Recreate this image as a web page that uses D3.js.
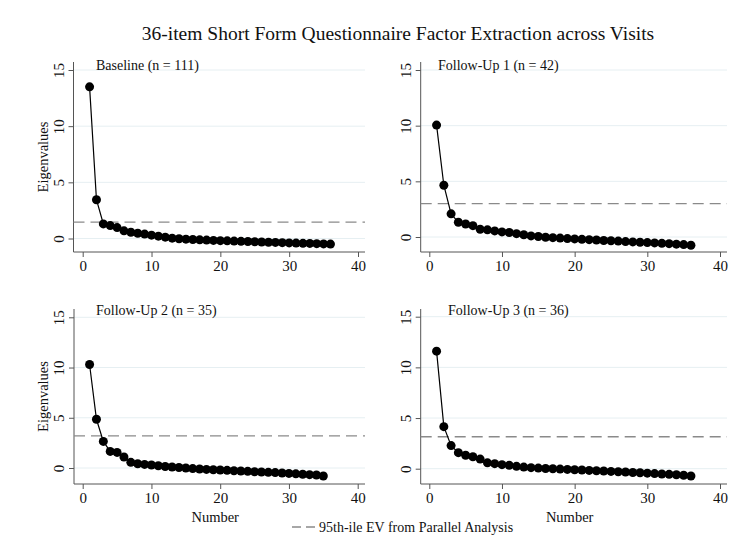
<!DOCTYPE html>
<html>
<head>
<meta charset="utf-8">
<script src="https://d3js.org/d3.v7.min.js"></script>
<style>
  body { margin: 0; background: #fff; }
  svg { display: block; }
  svg text { font-family: "Liberation Serif", "Times New Roman", serif; }
</style>
</head>
<body>
<div id="chart"></div>
<script>
// Data
const panelTitles = ["Baseline (n = 111)", "Follow-Up 1 (n = 42)", "Follow-Up 2 (n = 35)", "Follow-Up 3 (n = 36)"];

const baseline = [13.5, 3.45, 1.3, 1.15, 0.97, 0.68, 0.56, 0.47, 0.39, 0.3, 0.21, 0.12, 0.03, -0.02, -0.06, -0.09,
    -0.12, -0.14, -0.17, -0.19, -0.21, -0.23, -0.25, -0.27, -0.29, -0.31, -0.33, -0.35, -0.37, -0.39, -0.41, -0.43,
    -0.44, -0.46, -0.48, -0.5];
const followUp1 = [10.05, 4.65, 2.08, 1.32, 1.17, 1.02, 0.7, 0.64, 0.55, 0.46, 0.4, 0.3, 0.2, 0.1, 0.04, -0.02,
    -0.06, -0.1, -0.14, -0.17, -0.21, -0.24, -0.27, -0.31, -0.34, -0.37, -0.41, -0.44, -0.47, -0.5, -0.53, -0.57,
    -0.6, -0.64, -0.68, -0.74];
const followUp2 = [10.3, 4.85, 2.65, 1.65, 1.55, 1.1, 0.56, 0.42, 0.36, 0.3, 0.22, 0.15, 0.1, 0.05, 0.0, -0.06,
    -0.1, -0.14, -0.17, -0.2, -0.23, -0.27, -0.3, -0.33, -0.37, -0.4, -0.43, -0.46, -0.5, -0.54, -0.58, -0.62,
    -0.66, -0.7, -0.8];
const followUp3 = [11.6, 4.15, 2.28, 1.58, 1.33, 1.18, 0.95, 0.58, 0.5, 0.4, 0.33, 0.23, 0.16, 0.1, 0.06, 0.02,
    -0.01, -0.04, -0.07, -0.1, -0.13, -0.17, -0.2, -0.23, -0.27, -0.3, -0.33, -0.37, -0.4, -0.44, -0.48, -0.52,
    -0.56, -0.6, -0.65, -0.72];

// 95th percentile eigenvalue from parallel analysis, per visit
const parallelEV = [1.46, 3.0, 3.2, 3.15];

const xTicks = [0, 10, 20, 30, 40];
const yTicks = [0, 5, 10, 15];

const series = [baseline, followUp1, followUp2, followUp3];

// Layout (pixel positions of each panel)
const layout = [
    { left: 73.5, right: 365, top: 62, bottom: 252, x0: 82.7, x40: 358, y0: 238.5, y15: 70, titleX: 96, titleY: 65, yTitle: true, xTitle: false },
    { left: 420.7, right: 727, top: 62, bottom: 252, x0: 429.3, x40: 720, y0: 237, y15: 70, titleX: 438, titleY: 65, yTitle: false, xTitle: false },
    { left: 74, right: 365, top: 309, bottom: 484, x0: 82.7, x40: 357.7, y0: 468, y15: 317.3, titleX: 96, titleY: 310, yTitle: true, xTitle: true },
    { left: 420.7, right: 727, top: 309, bottom: 484, x0: 429.3, x40: 720, y0: 468.7, y15: 316.7, titleX: 448, titleY: 310, yTitle: false, xTitle: true }
];

const width = 742, height = 546;
const serif = "'Liberation Serif', 'Times New Roman', serif";

const svg = d3.select("#chart")
    .append("svg")
    .attr("width", width)
    .attr("height", height);

// Main title
svg.append("text")
    .attr("x", 398)
    .attr("y", 33)
    .attr("text-anchor", "middle")
    .attr("dominant-baseline", "central")
    .attr("font-family", serif)
    .style("font-size", "19.5px")
    .attr("fill", "#111")
    .text("36-item Short Form Questionnaire Factor Extraction across Visits");

series.forEach((values, i) => {
    const L = layout[i];
    const data = values.map((v, k) => ({ n: k + 1, ev: v }));

    const xScale = d3.scaleLinear().domain([0, 40]).range([L.x0, L.x40]);
    const yScale = d3.scaleLinear().domain([0, 15]).range([L.y0, L.y15]);

    const g = svg.append("g").attr("font-family", serif);

    // Gridlines
    g.selectAll(".grid")
        .data(yTicks)
        .enter()
        .append("line")
        .attr("x1", L.left)
        .attr("x2", L.right)
        .attr("y1", d => yScale(d))
        .attr("y2", d => yScale(d))
        .attr("stroke", "#e6eff2")
        .attr("stroke-width", 1);

    // Axes
    const xAxis = d3.axisBottom(xScale).tickValues(xTicks).tickSize(5).tickSizeOuter(0).tickPadding(3);
    const yAxis = d3.axisLeft(yScale).tickValues(yTicks).tickSize(5).tickSizeOuter(0).tickPadding(4);

    const gx = g.append("g")
        .attr("transform", `translate(0,${L.bottom})`)
        .call(xAxis)
        .attr("font-family", serif)
        .attr("font-size", 15);
    gx.select(".domain").remove();
    gx.append("line")
        .attr("x1", L.left).attr("x2", L.right)
        .attr("stroke", "#555");
    gx.selectAll(".tick line").attr("stroke", "#555");
    gx.selectAll(".tick text").attr("fill", "#111");

    const gy = g.append("g")
        .attr("transform", `translate(${L.left},0)`)
        .call(yAxis)
        .attr("font-family", serif)
        .attr("font-size", 15);
    gy.select(".domain").remove();
    gy.append("line")
        .attr("y1", L.top).attr("y2", L.bottom)
        .attr("stroke", "#555");
    gy.selectAll(".tick line").attr("stroke", "#555");
    gy.selectAll(".tick text")
        .attr("fill", "#111")
        .attr("x", null)
        .attr("dy", null)
        .attr("text-anchor", "middle")
        .attr("dominant-baseline", "central")
        .attr("transform", "translate(-15,0) rotate(-90)");

    if (L.yTitle) {
        g.append("text")
            .attr("transform", `translate(43,${(L.top + L.bottom) / 2}) rotate(-90)`)
            .attr("text-anchor", "middle")
            .attr("dominant-baseline", "central")
            .style("font-size", "14.5px")
            .attr("fill", "#111")
            .text("Eigenvalues");
    }
    if (L.xTitle) {
        g.append("text")
            .attr("x", (L.x0 + L.x40) / 2 - 5)
            .attr("y", 517)
            .attr("text-anchor", "middle")
            .attr("dominant-baseline", "central")
            .style("font-size", "14.5px")
            .attr("fill", "#111")
            .text("Number");
    }

    // Parallel analysis reference line
    g.append("line")
        .attr("x1", L.left)
        .attr("x2", L.right)
        .attr("y1", yScale(parallelEV[i]))
        .attr("y2", yScale(parallelEV[i]))
        .attr("stroke", "#8a8a8a")
        .attr("stroke-width", 1.4)
        .attr("stroke-dasharray", "11,6");

    // Scree line
    const line = d3.line()
        .x(d => xScale(d.n))
        .y(d => yScale(d.ev));

    g.append("path")
        .datum(data)
        .attr("fill", "none")
        .attr("stroke", "#000")
        .attr("stroke-width", 1.2)
        .attr("d", line);

    g.selectAll(".point")
        .data(data)
        .enter()
        .append("circle")
        .attr("class", "point")
        .attr("cx", d => xScale(d.n))
        .attr("cy", d => yScale(d.ev))
        .attr("r", 4.5)
        .attr("fill", "#000");

    // Panel title
    g.append("text")
        .attr("x", L.titleX)
        .attr("y", L.titleY)
        .attr("dominant-baseline", "central")
        .style("font-size", "14px")
        .attr("fill", "#111")
        .text(panelTitles[i]);
});

// Legend
const legend = svg.append("g")
    .attr("transform", "translate(292,527)")
    .attr("font-family", serif);
legend.append("line")
    .attr("x1", 0).attr("x2", 25)
    .attr("stroke", "#8a8a8a")
    .attr("stroke-width", 1.4)
    .attr("stroke-dasharray", "9,5");
legend.append("text")
    .attr("x", 27)
    .attr("dominant-baseline", "central")
    .style("font-size", "14px")
    .attr("fill", "#111")
    .text("95th-ile EV from Parallel Analysis");
</script>
</body>
</html>
